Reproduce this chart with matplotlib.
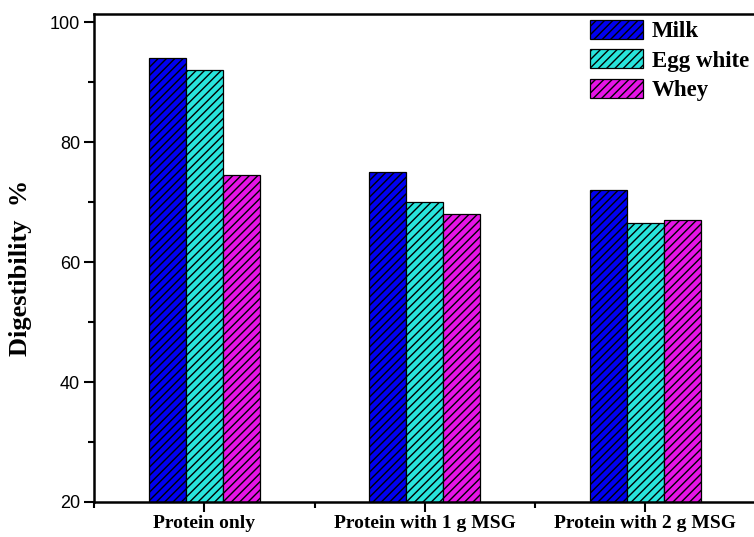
import matplotlib
matplotlib.use("Agg")
import matplotlib.pyplot as plt
import numpy as np

categories = ["Protein only", "Protein with 1 g MSG", "Protein with 2 g MSG"]
series_names = ["Milk", "Egg white", "Whey"]
milk = [94.0, 75.0, 72.1]
egg_white = [92.0, 70.0, 66.5]
whey = [74.6, 68.0, 67.1]
colors = ["#0000F0", "#28E4DC", "#E614E6"]

plt.rcParams["hatch.linewidth"] = 1.0

fig = plt.figure(figsize=(7.54, 5.37), dpi=100)
ax = fig.add_axes([94/754, 1 - 502/537, 1 - 94/754 + 0.002, (502 - 14)/537])

x = np.arange(1, len(categories) + 1)
w = 0.168
for i, (vals, name, c) in enumerate(zip([milk, egg_white, whey], series_names, colors)):
    ax.bar(x + (i - 1) * w, vals, width=w, color=c, edgecolor="black",
           linewidth=0.9, hatch="////", label=name)

ax.set_xlim(0.5, 3.5)
ax.set_ylim(20, 101.4)
ax.set_xticks(x)
ax.set_xticklabels(categories, fontfamily="Liberation Serif", fontweight="bold", fontsize=14)
ax.set_xticks([0.5, 1.5, 2.5, 3.5], minor=True)
ax.set_yticks([20, 40, 60, 80, 100])
ax.set_yticks([30, 50, 70, 90], minor=True)
for lab in ax.get_yticklabels():
    lab.set_fontfamily("Liberation Sans")
    lab.set_fontsize(13)
ax.tick_params(axis="both", which="major", direction="out", length=7, width=1.5)
ax.tick_params(axis="both", which="minor", direction="out", length=4, width=1.5)
ax.tick_params(axis="x", which="major", pad=2.5)
ax.tick_params(axis="y", which="major", pad=3)
for s in ["left", "bottom", "top"]:
    ax.spines[s].set_linewidth(1.8)
ax.spines["right"].set_visible(False)

ax.set_ylabel("Digestibility  %", fontfamily="Liberation Serif", fontweight="bold",
              fontsize=19)
ax.yaxis.set_label_coords(-0.093, 0.48)

leg = ax.legend(loc="upper left", bbox_to_anchor=(590/754, 1 - 20/537),
                bbox_transform=fig.transFigure, frameon=False, borderpad=0,
                handlelength=2.3, handleheight=0.9, handletextpad=0.4,
                labelspacing=0.3, borderaxespad=0,
                prop={"family": "Liberation Serif", "weight": "bold", "size": 16.5})

fig.savefig("out.png", dpi=100)
